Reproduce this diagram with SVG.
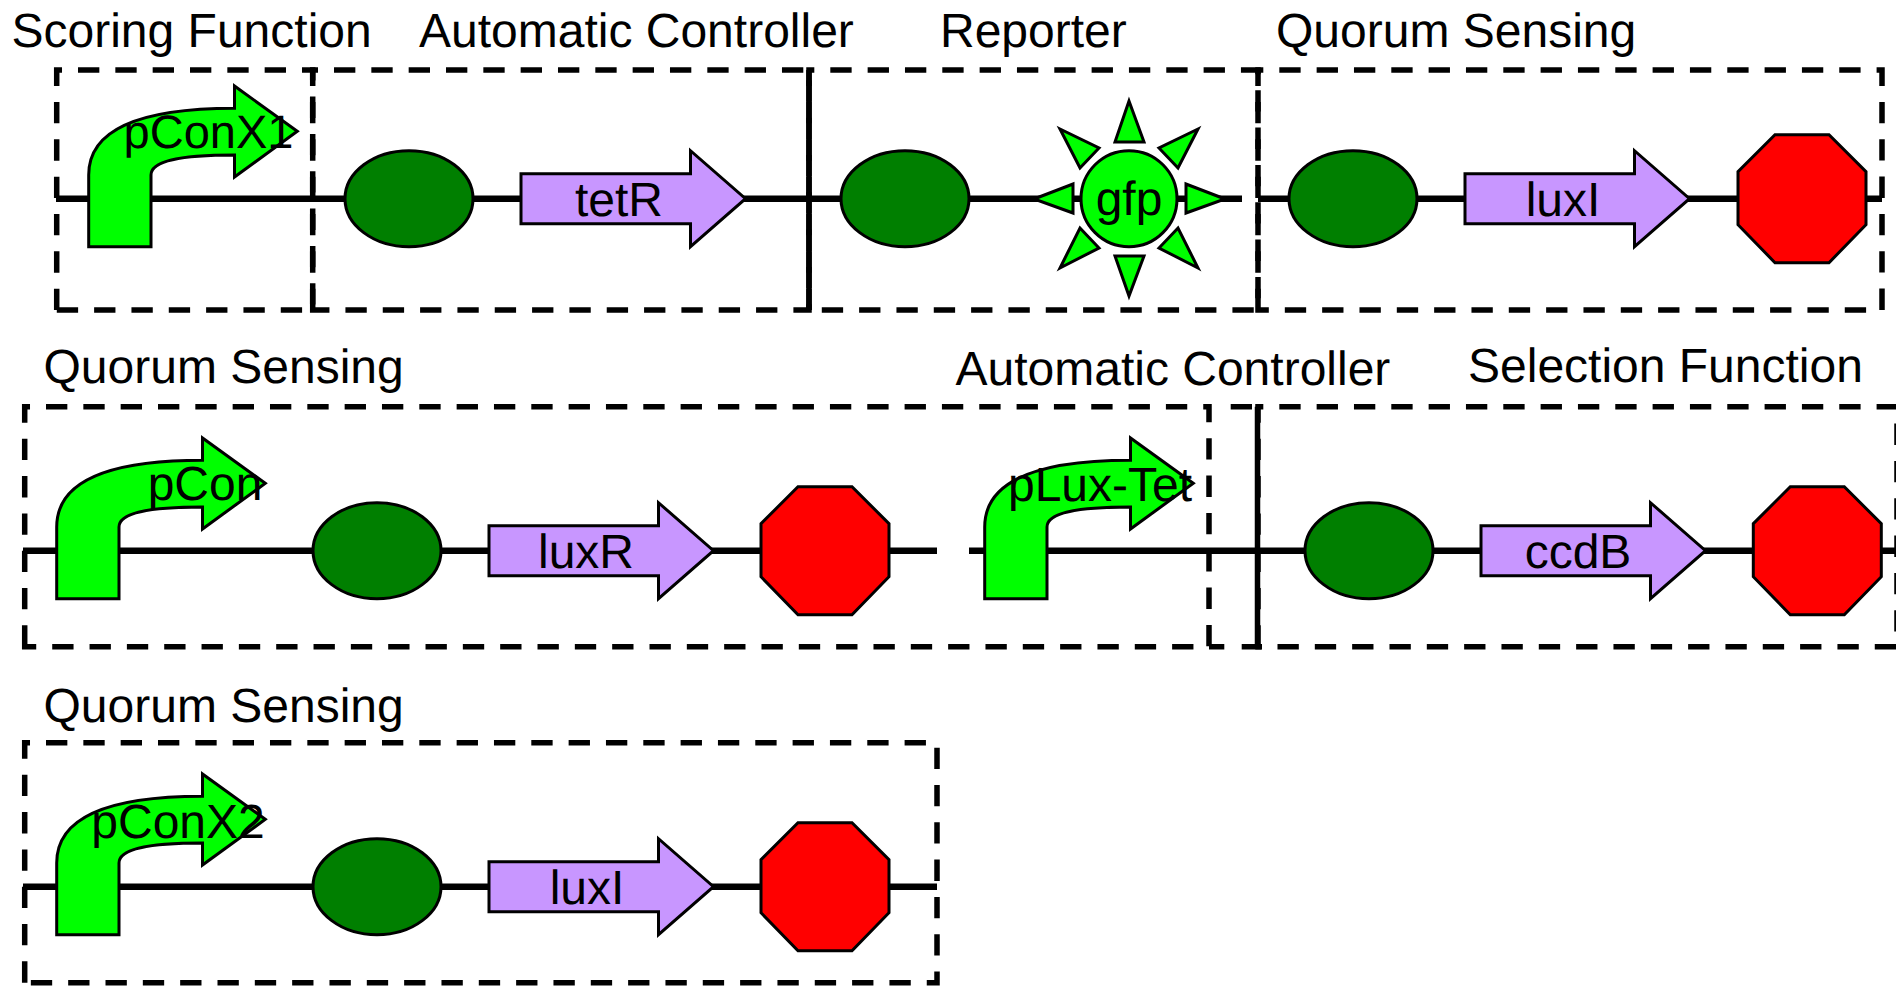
<svg xmlns="http://www.w3.org/2000/svg" width="1896" height="986" viewBox="0 0 1896 986">
<style>
text{font-family:"Liberation Sans",Arial,sans-serif;font-size:48px;fill:#000;text-rendering:geometricPrecision}
.m{text-anchor:middle}
.box{fill:none;stroke:#000;stroke-width:5.500;stroke-dasharray:21.33 16}
.solid{stroke:#000;stroke-width:5.500;fill:none}
.wire{stroke:#000;stroke-width:6.500;fill:none}
.s{stroke:#000;stroke-width:3;stroke-linejoin:miter}
.pro{fill:#0f0}.rbs{fill:#007f00}.cds{fill:#c896ff}.term{fill:#f00}
</style>
<defs>
<path id="promoter" d="M88.700 246.700V175C88.700 132 135 108.300 234.500 108.300V86L297.300 131.300L234.500 177V155C175 155 151 162 151 175V246.700Z"/>
<ellipse id="rbs" cx="0" cy="0" rx="64" ry="48"/>
<path id="cds" d="M0-25H169.500V-48L224.500 0L169.500 48V25H0Z"/>
<path id="term" d="M37-64H91L128-27V26L91 64H37L0 26V-27Z"/>
</defs>
<g id="labels">
<text x="11.500" y="46.500">Scoring Function</text>
<text x="419" y="46.500">Automatic Controller</text>
<text x="940" y="46.500">Reporter</text>
<text x="1276" y="46.500">Quorum Sensing</text>
<text x="43.500" y="382.500">Quorum Sensing</text>
<text x="955.500" y="385">Automatic Controller</text>
<text x="1468" y="382">Selection Function</text>
<text x="43.500" y="722">Quorum Sensing</text>
</g>
<g id="connectors">
<path class="wire" d="M56 198.700H1242M1258 198.700H1882"/>
<path class="wire" d="M23 550.700H937M969 550.700H1896"/>
<path class="wire" d="M23 886.700H937"/>
</g>
<g id="boxes">
<path class="box" d="M56.700 310V70H312.700V310Z"/>
<path class="box" d="M312.700 310V70H809V310Z"/>
<path class="box" d="M809 310V70H1258V310Z"/>
<path class="box" d="M1258 310V70H1882V310Z"/>
<path class="box" d="M24.700 646.700V406.700H1209V646.700Z"/>
<path class="box" d="M1258 646.700V406.700H1897V646.700Z"/>
<path class="box" d="M24.700 982.700V742.700H937V982.700Z"/>
<path class="solid" d="M809 70V310M1257.500 406.700V646.700"/>
<path class="solid" d="M1230.700 406.700H1252M1209 646.700H1224.300M1241.700 646.700H1262"/>
</g>
<g id="pConX1"><use href="#promoter" class="pro s"/><text class="m" x="208.500" y="148" style="font-size:47px">pConX1</text></g>
<g id="rbs1"><use href="#rbs" class="rbs s" x="409" y="198.700"/></g>
<g id="tetR"><use href="#cds" class="cds s" x="521" y="198.700"/><text class="m" x="619" y="216">tetR</text></g>
<g id="rbs2"><use href="#rbs" class="rbs s" x="905" y="198.700"/></g>
<g id="gfp">
<ellipse class="pro s" cx="1129" cy="198.700" rx="48" ry="48"/>
<path class="pro s" d="M1129 101L1144 142H1115ZM1129 296L1115 256H1144ZM1034 199L1073 184V213ZM1225 199L1186 184V213ZM1060 129L1099 148L1080 168ZM1198 129L1159 148L1178 168ZM1060 268L1099 248L1080 228ZM1198 268L1159 248L1178 228Z"/>
<text class="m" x="1129" y="215">gfp</text>
</g>
<g id="rbs3"><use href="#rbs" class="rbs s" x="1353" y="198.700"/></g>
<g id="luxI1"><use href="#cds" class="cds s" x="1465" y="198.700"/><text class="m" x="1563" y="216">luxI</text></g>
<g id="term1"><use href="#term" class="term s" x="1738" y="198.700"/></g>
<g id="pCon"><use href="#promoter" class="pro s" x="-32" y="352"/><text class="m" x="205" y="500">pCon</text></g>
<g id="rbs4"><use href="#rbs" class="rbs s" x="377" y="550.700"/></g>
<g id="luxR"><use href="#cds" class="cds s" x="489" y="550.700"/><text class="m" x="586" y="568">luxR</text></g>
<g id="term2"><use href="#term" class="term s" x="761" y="550.700"/></g>
<g id="pLux-Tet"><use href="#promoter" class="pro s" x="896" y="352"/><text class="m" x="1100" y="501">pLux-Tet</text></g>
<g id="rbs5"><use href="#rbs" class="rbs s" x="1369" y="550.700"/></g>
<g id="ccdB"><use href="#cds" class="cds s" x="1481" y="550.700"/><text class="m" x="1578" y="568">ccdB</text></g>
<g id="term3"><use href="#term" class="term s" x="1753.300" y="550.700"/></g>
<g id="pConX2"><use href="#promoter" class="pro s" x="-32" y="688"/><text class="m" x="178" y="838">pConX2</text></g>
<g id="rbs6"><use href="#rbs" class="rbs s" x="377" y="886.700"/></g>
<g id="luxI2"><use href="#cds" class="cds s" x="489" y="886.700"/><text class="m" x="587" y="904">luxI</text></g>
<g id="term4"><use href="#term" class="term s" x="761" y="886.700"/></g>
</svg>
